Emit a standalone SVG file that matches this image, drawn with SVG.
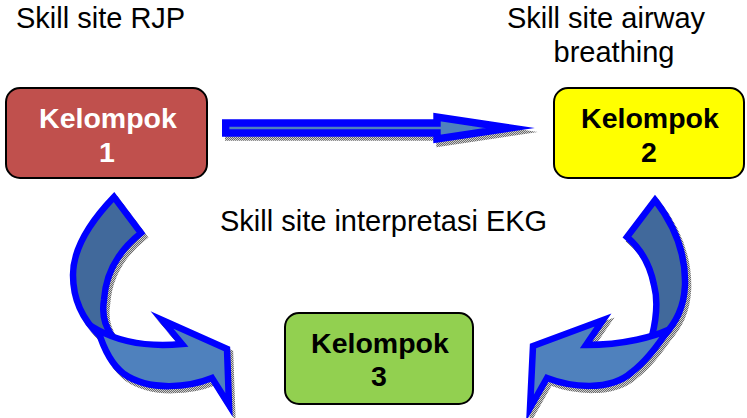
<svg xmlns="http://www.w3.org/2000/svg" width="747" height="418" viewBox="0 0 747 418">
  <defs>
    <pattern id="dots" width="2" height="2" patternUnits="userSpaceOnUse">
      <rect width="2" height="2" fill="#cfcfcf"/>
      <rect width="1" height="1" fill="#6a6a6a"/>
      <rect x="1" y="1" width="1" height="1" fill="#6a6a6a"/>
    </pattern>
  </defs>
  <style>
    .lbl { font-family: "Liberation Sans", Arial, sans-serif; font-size: 29px; fill: #000; }
    .nt { font-family: "Liberation Sans", Arial, sans-serif; font-size: 28.5px; font-weight: bold; text-anchor: middle; }
    .box { stroke: #000; stroke-width: 2; }
    .arr { stroke: #0000FF; stroke-linejoin: miter; stroke-miterlimit: 12; }
    .shadow { fill: url(#dots); stroke: url(#dots); stroke-linejoin: miter; stroke-miterlimit: 12; }
    .dark { fill: #41699B; }
    .light { fill: #4F81BD; }
  </style>

  <text class="lbl" x="16" y="28">Skill site RJP</text>
  <text class="lbl" x="606" y="28" text-anchor="middle">Skill site airway</text>
  <text class="lbl" x="614" y="62" text-anchor="middle">breathing</text>
  <text class="lbl" x="220" y="231">Skill site interpretasi EKG</text>

  <g id="connectors">
    <!-- shadows -->
    <g transform="translate(3,4)">
      <path class="shadow" stroke-width="7.4" d="M225.7,123 L437,123 L437,117 L510,128 L437,139 L437,133 L225.7,133 Z"/>
      <path class="shadow" stroke-width="6.5" d="M114,197 C90,222 73,248 73,275 C73,302 85,322 100,336 L112,336 C104,325 102,312 104,300 C106,270 122,248 141,233 Z"/>
      <path class="shadow" stroke-width="6.5" d="M98,330 C120,342 150,347 182,344 L162,320 L227,349 L229,405 L212,378 C190,387 150,392 124,374 C112,365 104,350 98,330 Z"/>
      <path class="shadow" stroke-width="6.5" d="M655,200 C672,222 686,250 685,285 C684,308 676,322 664,336 L652,336 C656,320 658,300 654,285 C650,265 640,248 627,237 Z"/>
      <path class="shadow" stroke-width="6.5" d="M668,330 C655,336 625,345 586,345 L603,320 L533,346 L530,408 L547,378 C570,387 610,392 632,372 C645,362 655,350 668,330 Z"/>
    </g>
    <!-- horizontal arrow 1 -> 2 -->
    <path id="arrow-1-2" class="arr light" stroke-width="7.4" d="M225.7,123 L437,123 L437,117 L510,128 L437,139 L437,133 L225.7,133 Z"/>
    <!-- curved arrow 1 -> 3 -->
    <g id="arrow-1-3">
      <path class="arr dark" stroke-width="6.5" d="M114,197 C90,222 73,248 73,275 C73,302 85,322 100,336 L112,336 C104,325 102,312 104,300 C106,270 122,248 141,233 Z"/>
      <path class="arr light" stroke-width="6.5" d="M98,330 C120,342 150,347 182,344 L162,320 L227,349 L229,405 L212,378 C190,387 150,392 124,374 C112,365 104,350 98,330 Z"/>
    </g>
    <!-- curved arrow 2 -> 3 -->
    <g id="arrow-2-3">
      <path class="arr dark" stroke-width="6.5" d="M655,200 C672,222 686,250 685,285 C684,308 676,322 664,336 L652,336 C656,320 658,300 654,285 C650,265 640,248 627,237 Z"/>
      <path class="arr light" stroke-width="6.5" d="M668,330 C655,336 625,345 586,345 L603,320 L533,346 L530,408 L547,378 C570,387 610,392 632,372 C645,362 655,350 668,330 Z"/>
    </g>
  </g>

  <g id="node-k1">
    <rect class="box" x="6" y="88" width="201" height="90" rx="14" fill="#C0504D"/>
    <text class="nt" x="108" y="128" fill="#FFFFFF">Kelompok</text>
    <text class="nt" x="107" y="162" fill="#FFFFFF">1</text>
  </g>
  <g id="node-k2">
    <rect class="box" x="554" y="88" width="190" height="90" rx="14" fill="#FFFF00"/>
    <text class="nt" x="650" y="128" fill="#000">Kelompok</text>
    <text class="nt" x="649" y="162" fill="#000">2</text>
  </g>
  <g id="node-k3">
    <rect class="box" x="285" y="313" width="188" height="91" rx="14" fill="#92D050"/>
    <text class="nt" x="380" y="353" fill="#000">Kelompok</text>
    <text class="nt" x="379" y="386" fill="#000">3</text>
  </g>
</svg>
